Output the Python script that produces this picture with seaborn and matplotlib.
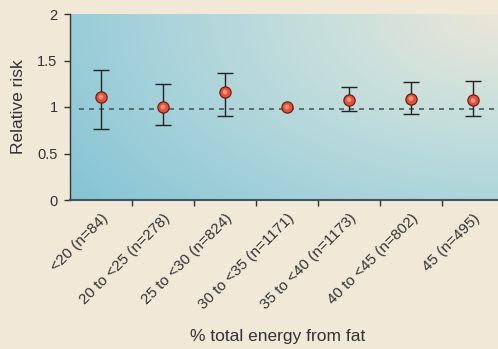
import numpy as np
import pandas as pd
import matplotlib
matplotlib.use("Agg")
import matplotlib.pyplot as plt
import matplotlib.transforms as mtransforms
import seaborn as sns
from matplotlib.colors import LinearSegmentedColormap

categories = ["<20 (n=84)", "20 to <25 (n=278)", "25 to <30 (n=824)",
              "30 to <35 (n=1171)", "35 to <40 (n=1173)", "40 to <45 (n=802)",
              "45 (n=495)"]
risk = [1.11, 1.00, 1.16, 1.00, 1.08, 1.09, 1.07]
lower = [0.76, 0.81, 0.90, 1.00, 0.96, 0.92, 0.90]
upper = [1.40, 1.25, 1.37, 1.00, 1.21, 1.27, 1.28]
reference_line = 0.98

bg = "#f1e8d8"
sns.set_theme(style="white")
plt.rcParams["font.family"] = ["Liberation Sans", "DejaVu Sans"]

df = pd.DataFrame({"pos": np.arange(len(categories)), "risk": risk,
                   "lower": lower, "upper": upper})

fig = plt.figure(figsize=(4.98, 3.49), dpi=100, facecolor=bg)
ax = fig.add_axes([70 / 498, 149 / 349, 434 / 498, 186 / 349])
ax.set_facecolor(bg)

# gradient background: teal bottom-left to beige top-right
gx, gy = np.meshgrid(np.linspace(0, 1, 200), np.linspace(0, 1, 200))
d = np.sqrt(((1 - gx) * 1.0) ** 2 + ((1 - gy) * 0.75) ** 2) / 1.25
cmap = LinearSegmentedColormap.from_list("bg", ["#ece6d8", "#c7dfdc", "#a6d2da", "#84c4d4"])
ax.imshow(d, extent=[0, 1, 0, 1], transform=ax.transAxes, origin="lower",
          cmap=cmap, vmin=0, vmax=1, aspect="auto", zorder=0, interpolation="bilinear")

ax.plot([-0.35, 6.6], [reference_line] * 2, ls=(0, (3, 3)), color="#4a5a60", lw=1.2, zorder=2)

err = [df["risk"] - df["lower"], df["upper"] - df["risk"]]
has_err = (df["upper"] - df["lower"]) > 0
ax.errorbar(df["pos"][has_err], df["risk"][has_err],
            yerr=[e[has_err] for e in err], fmt="none", ecolor="#222222",
            elinewidth=1, capsize=6, capthick=1, zorder=3)

sns.scatterplot(data=df, x="pos", y="risk", ax=ax, s=65, color="#e5503c",
                edgecolor="#6b1f14", linewidth=0.9, zorder=4)
sns.scatterplot(data=df, x="pos", y="risk", ax=ax, s=12, color="#f8a08a",
                edgecolor="none", zorder=5, alpha=0.8)

ax.set_xlim(-0.5, 6.5)
ax.set_ylim(0, 2)
ax.set_yticks([0, 0.5, 1, 1.5, 2])
ax.set_yticklabels(["0", "0.5", "1", "1.5", "2"])
ax.set_xticks(df["pos"])
ax.set_xticklabels(categories, rotation=45, ha="right", rotation_mode="anchor")
shift = mtransforms.ScaledTranslation(8 / 100, 0, fig.dpi_scale_trans)
for lbl in ax.get_xticklabels():
    lbl.set_transform(lbl.get_transform() + shift)
ax.set_xticks(np.arange(0.5, 6, 1), minor=True)
ax.tick_params(axis="x", which="major", length=0, pad=8, labelsize=11, labelcolor="#333333")
ax.tick_params(axis="x", which="minor", length=4, width=1, color="#333333", bottom=True)
ax.tick_params(axis="y", length=4, width=1, color="#333333", left=True, labelsize=10.5,
               labelcolor="#333333", pad=5)

for s in ["top", "right"]:
    ax.spines[s].set_visible(False)
ax.spines["left"].set_color("#333333")
ax.spines["bottom"].set_color("#3d5560")
ax.spines["left"].set_linewidth(1)
ax.spines["bottom"].set_linewidth(1.5)

ax.set_xlabel("% total energy from fat", fontsize=12.5, color="#333333", va="center")
ax.xaxis.set_label_coords((278 - 70) / 434, (200 - 337) / 186)
ax.set_ylabel("Relative risk", fontsize=12.5, color="#333333", labelpad=8)

fig.savefig("out.png", dpi=100, facecolor=bg)
